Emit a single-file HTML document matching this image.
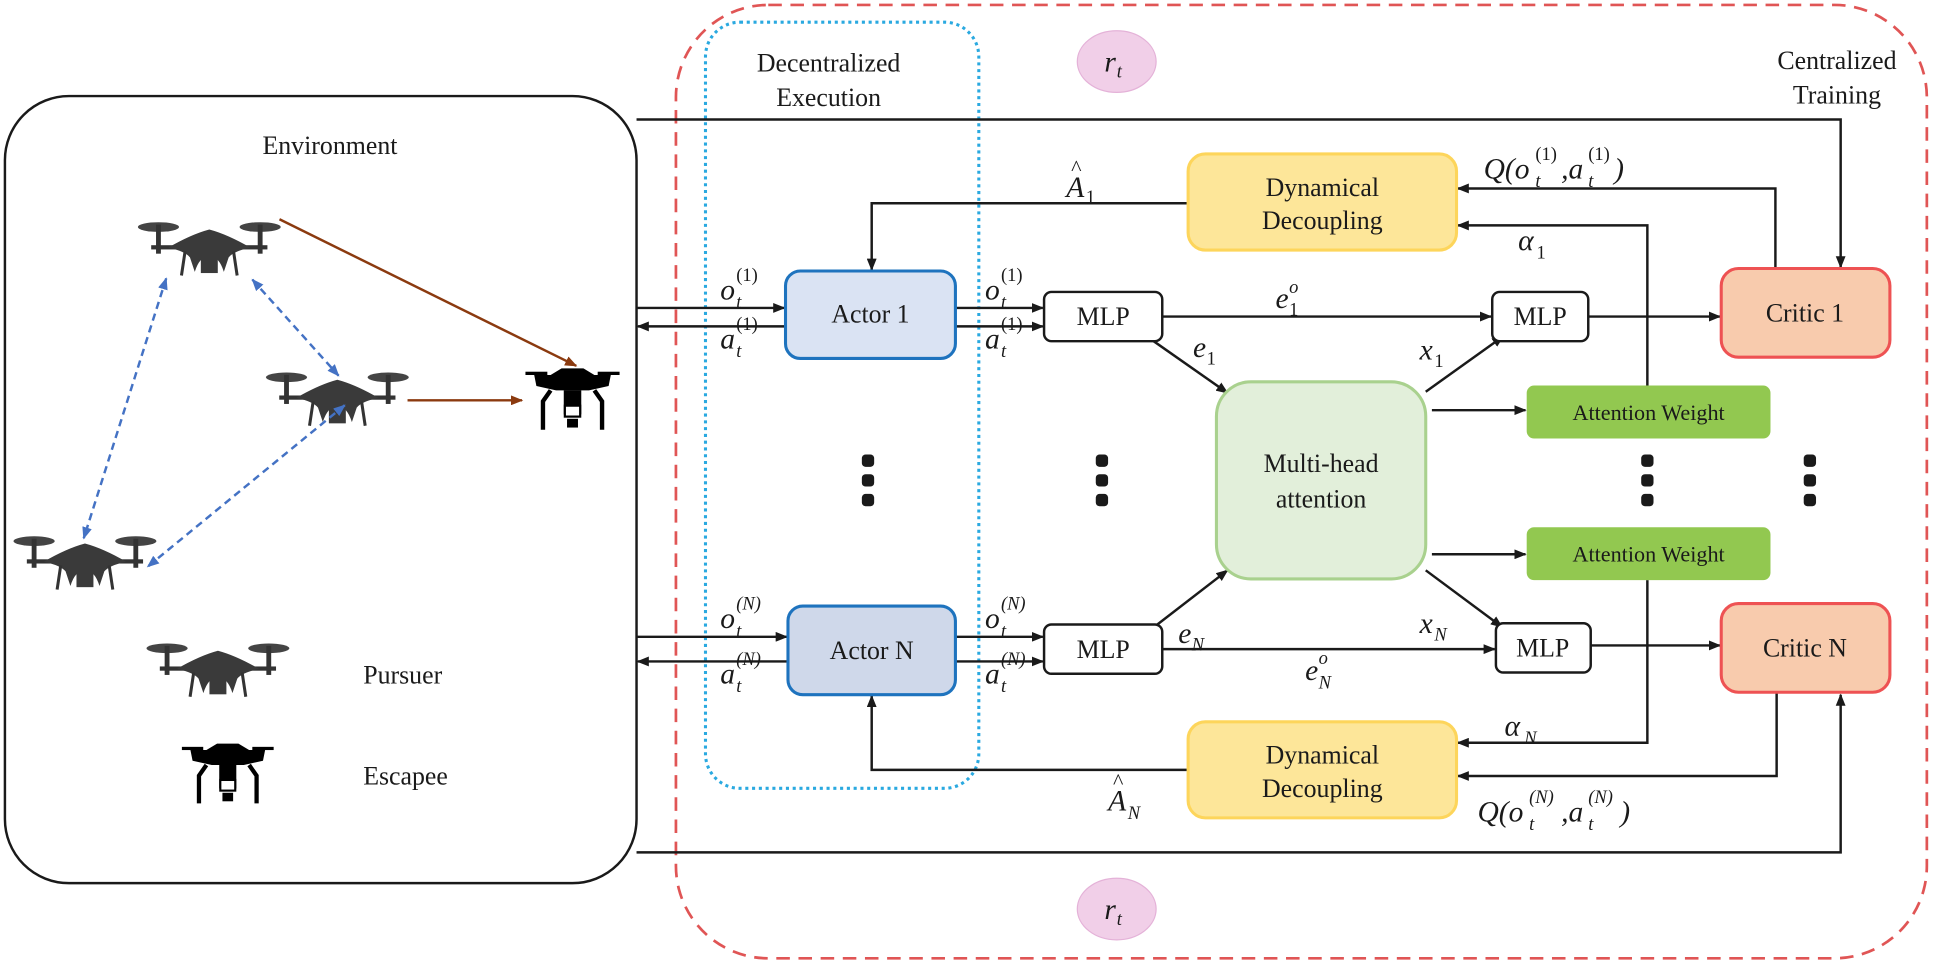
<!DOCTYPE html>
<html><head><meta charset="utf-8"><style>
html,body{margin:0;padding:0;background:#fff}
svg{display:block}
text{font-family:"Liberation Serif",serif;fill:#1a1a1a}
.m{font-style:italic;font-size:24px}
.s{font-style:italic;font-size:15px}
.n{font-style:normal;font-size:15px}
.b{font-size:21px}
</style></head><body>
<svg width="1933" height="962" viewBox="0 0 1570 781" preserveAspectRatio="none" xmlns="http://www.w3.org/2000/svg">
<defs>
<marker id="ar" markerWidth="10" markerHeight="8" refX="9" refY="4" orient="auto" markerUnits="userSpaceOnUse"><path d="M0,0 L10,4 L0,8 Z" fill="#1a1a1a"/></marker>
<marker id="br" markerWidth="10" markerHeight="8" refX="9" refY="4" orient="auto" markerUnits="userSpaceOnUse"><path d="M0,0 L10,4 L0,8 Z" fill="#8b3a0f"/></marker>
<marker id="bl" markerWidth="10" markerHeight="8" refX="9" refY="4" orient="auto-start-reverse" markerUnits="userSpaceOnUse"><path d="M0,0 L10,4 L0,8 Z" fill="#4472c4"/></marker>
<symbol id="pd" viewBox="0 0 120 50">
<ellipse cx="18" cy="6" rx="17" ry="4" fill="#444"/><ellipse cx="102" cy="6" rx="17" ry="4" fill="#444"/>
<rect x="16" y="4" width="4" height="24" fill="#333"/><rect x="100" y="4" width="4" height="24" fill="#333"/>
<rect x="12" y="21" width="96" height="3.5" fill="#333"/>
<path d="M26 23 Q45 12 60 8 Q75 12 94 23 Q80 26 76 31 L72 43 Q68 30 60 30 Q52 30 48 43 L44 31 Q40 26 26 23Z" fill="#3a3a3a"/>
<rect x="53" y="29" width="14" height="15" fill="#3a3a3a"/>
<line x1="40" y1="26" x2="37" y2="46" stroke="#333" stroke-width="2.5"/><line x1="80" y1="26" x2="83" y2="46" stroke="#333" stroke-width="2.5"/>
</symbol>
<symbol id="ed" viewBox="0 0 90 60">
<rect x="2" y="5" width="20" height="3" fill="#000"/><rect x="68" y="5" width="20" height="3" fill="#000"/>
<path d="M10 8 L25 8 L35 2 L55 2 L65 8 L80 8 L78 18 L60 22 L30 22 L12 18Z" fill="#000"/>
<path d="M25 22 L18 32 L18 58 M65 22 L72 32 L72 58" stroke="#000" stroke-width="4" fill="none"/>
<rect x="37" y="22" width="16" height="22" fill="#000"/><rect x="38" y="36" width="14" height="10" fill="#fff" stroke="#000" stroke-width="2"/>
<rect x="40" y="48" width="10" height="8" fill="#000"/>
</symbol>
</defs>

<rect x="549" y="4" width="1016" height="774" rx="75" fill="none" stroke="#e05555" stroke-width="2.2" stroke-dasharray="11,7"/>
<rect x="573" y="18" width="222" height="622" rx="28" fill="none" stroke="#2aa9e0" stroke-width="2.5" stroke-dasharray="2.5,3"/>
<rect x="4" y="78" width="513" height="639" rx="52" fill="none" stroke="#1a1a1a" stroke-width="2"/>

<text class="b" x="268" y="125" text-anchor="middle">Environment</text>
<text class="b" x="673" y="58" text-anchor="middle">Decentralized</text>
<text class="b" x="673" y="86" text-anchor="middle">Execution</text>
<text class="b" x="1492" y="56" text-anchor="middle">Centralized</text>
<text class="b" x="1492" y="84" text-anchor="middle">Training</text>

<ellipse cx="907" cy="50" rx="32" ry="25" fill="#f1cfe8" stroke="#e4b2d8"/>
<text class="m" x="897" y="58">r</text><text class="s" x="907" y="63">t</text>
<ellipse cx="907" cy="738" rx="32" ry="25" fill="#f1cfe8" stroke="#e4b2d8"/>
<text class="m" x="897" y="746">r</text><text class="s" x="907" y="751">t</text>

<use href="#pd" x="111" y="178" width="118" height="50"/>
<use href="#pd" x="215" y="300" width="118" height="50"/>
<use href="#pd" x="10" y="433" width="118" height="50"/>
<use href="#pd" x="118" y="520" width="118" height="50"/>
<use href="#ed" x="425" y="297" width="80" height="54"/>
<use href="#ed" x="140" y="602" width="90" height="52"/>
<text class="b" x="295" y="555">Pursuer</text>
<text class="b" x="295" y="637">Escapee</text>

<line x1="227" y1="178" x2="468" y2="297" stroke="#8b3a0f" stroke-width="2" marker-end="url(#br)"/>
<line x1="331" y1="325" x2="424" y2="325" stroke="#8b3a0f" stroke-width="2" marker-end="url(#br)"/>
<g stroke="#4472c4" stroke-width="2" stroke-dasharray="6,4" fill="none">
<line x1="205" y1="227" x2="275" y2="305" marker-start="url(#bl)" marker-end="url(#bl)"/>
<line x1="135" y1="226" x2="68" y2="437" marker-start="url(#bl)" marker-end="url(#bl)"/>
<line x1="280" y1="329" x2="120" y2="460" marker-start="url(#bl)" marker-end="url(#bl)"/>
</g>

<g stroke="#1a1a1a" stroke-width="2" fill="none">
<polyline points="517,97 1495,97 1495,217" marker-end="url(#ar)"/>
<polyline points="517,692 1495,692 1495,564" marker-end="url(#ar)"/>
<line x1="517" y1="250" x2="637" y2="250" marker-end="url(#ar)"/>
<line x1="638" y1="265" x2="518" y2="265" marker-end="url(#ar)"/>
<line x1="517" y1="517" x2="639" y2="517" marker-end="url(#ar)"/>
<line x1="640" y1="537" x2="518" y2="537" marker-end="url(#ar)"/>
<line x1="776" y1="250" x2="847" y2="250" marker-end="url(#ar)"/>
<line x1="776" y1="265" x2="847" y2="265" marker-end="url(#ar)"/>
<line x1="776" y1="517" x2="847" y2="517" marker-end="url(#ar)"/>
<line x1="776" y1="537" x2="847" y2="537" marker-end="url(#ar)"/>
<polyline points="965,165 708,165 708,219" marker-end="url(#ar)"/>
<polyline points="965,625 708,625 708,565" marker-end="url(#ar)"/>
<polyline points="1442,218 1442,153 1184,153" marker-end="url(#ar)"/>
<polyline points="1338,313 1338,183 1184,183" marker-end="url(#ar)"/>
<polyline points="1338,471 1338,603 1184,603" marker-end="url(#ar)"/>
<polyline points="1443,562 1443,630 1184,630" marker-end="url(#ar)"/>
<line x1="944" y1="257" x2="1211" y2="257" marker-end="url(#ar)"/>
<line x1="944" y1="527" x2="1214" y2="527" marker-end="url(#ar)"/>
<line x1="1290" y1="257" x2="1397" y2="257" marker-end="url(#ar)"/>
<line x1="1292" y1="524" x2="1397" y2="524" marker-end="url(#ar)"/>
<line x1="937" y1="277" x2="997" y2="319" marker-end="url(#ar)"/>
<line x1="940" y1="507" x2="997" y2="463" marker-end="url(#ar)"/>
<line x1="1158" y1="318" x2="1221" y2="273" marker-end="url(#ar)"/>
<line x1="1158" y1="463" x2="1220" y2="509" marker-end="url(#ar)"/>
<line x1="1163" y1="333" x2="1239" y2="333" marker-end="url(#ar)"/>
<line x1="1163" y1="450" x2="1239" y2="450" marker-end="url(#ar)"/>
</g>

<rect x="638" y="220" width="138" height="71" rx="12" fill="#dae3f3" stroke="#1e73be" stroke-width="2.5"/>
<text class="b" x="707" y="262" text-anchor="middle">Actor 1</text>
<rect x="640" y="492" width="136" height="72" rx="12" fill="#cfd8ea" stroke="#1e73be" stroke-width="2.5"/>
<text class="b" x="708" y="535" text-anchor="middle">Actor N</text>
<rect x="848" y="237" width="96" height="40" rx="6" fill="#fff" stroke="#1a1a1a" stroke-width="2"/>
<text class="b" x="896" y="264" text-anchor="middle">MLP</text>
<rect x="848" y="507" width="96" height="40" rx="6" fill="#fff" stroke="#1a1a1a" stroke-width="2"/>
<text class="b" x="896" y="534" text-anchor="middle">MLP</text>
<rect x="1212" y="237" width="78" height="40" rx="6" fill="#fff" stroke="#1a1a1a" stroke-width="2"/>
<text class="b" x="1251" y="264" text-anchor="middle">MLP</text>
<rect x="1215" y="506" width="77" height="40" rx="6" fill="#fff" stroke="#1a1a1a" stroke-width="2"/>
<text class="b" x="1253" y="533" text-anchor="middle">MLP</text>
<rect x="965" y="125" width="218" height="78" rx="14" fill="#fde699" stroke="#fdd55b" stroke-width="2.5"/>
<text class="b" x="1074" y="159" text-anchor="middle">Dynamical</text>
<text class="b" x="1074" y="186" text-anchor="middle">Decoupling</text>
<rect x="965" y="586" width="218" height="78" rx="14" fill="#fde699" stroke="#fdd55b" stroke-width="2.5"/>
<text class="b" x="1074" y="620" text-anchor="middle">Dynamical</text>
<text class="b" x="1074" y="647" text-anchor="middle">Decoupling</text>
<rect x="988" y="310" width="170" height="160" rx="28" fill="#e2efda" stroke="#a9d18e" stroke-width="2.5"/>
<text class="b" x="1073" y="383" text-anchor="middle">Multi-head</text>
<text class="b" x="1073" y="412" text-anchor="middle">attention</text>
<rect x="1240" y="313" width="198" height="43" rx="6" fill="#92c850"/>
<text font-size="18" x="1339" y="341" text-anchor="middle">Attention Weight</text>
<rect x="1240" y="428" width="198" height="43" rx="6" fill="#92c850"/>
<text font-size="18" x="1339" y="456" text-anchor="middle">Attention Weight</text>
<rect x="1398" y="218" width="137" height="72" rx="14" fill="#f8cbad" stroke="#ee5253" stroke-width="2.5"/>
<text class="b" x="1466" y="261" text-anchor="middle">Critic 1</text>
<rect x="1398" y="490" width="137" height="72" rx="14" fill="#f8cbad" stroke="#ee5253" stroke-width="2.5"/>
<text class="b" x="1466" y="533" text-anchor="middle">Critic N</text>

<g fill="#1a1a1a">
<rect x="700" y="369" width="10" height="10" rx="3"/><rect x="700" y="385" width="10" height="10" rx="3"/><rect x="700" y="401" width="10" height="10" rx="3"/>
<rect x="890" y="369" width="10" height="10" rx="3"/><rect x="890" y="385" width="10" height="10" rx="3"/><rect x="890" y="401" width="10" height="10" rx="3"/>
<rect x="1333" y="369" width="10" height="10" rx="3"/><rect x="1333" y="385" width="10" height="10" rx="3"/><rect x="1333" y="401" width="10" height="10" rx="3"/>
<rect x="1465" y="369" width="10" height="10" rx="3"/><rect x="1465" y="385" width="10" height="10" rx="3"/><rect x="1465" y="401" width="10" height="10" rx="3"/>
</g>

<text class="m" x="585" y="243">o</text><text class="s" x="598" y="250">t</text><text class="n" x="598" y="228">(1)</text>
<text class="m" x="585" y="283">a</text><text class="s" x="598" y="290">t</text><text class="n" x="598" y="268">(1)</text>
<text class="m" x="800" y="243">o</text><text class="s" x="813" y="250">t</text><text class="n" x="813" y="228">(1)</text>
<text class="m" x="800" y="283">a</text><text class="s" x="813" y="290">t</text><text class="n" x="813" y="268">(1)</text>
<text class="m" x="585" y="510">o</text><text class="s" x="598" y="517">t</text><text class="s" x="598" y="495">(N)</text>
<text class="m" x="585" y="555">a</text><text class="s" x="598" y="562">t</text><text class="s" x="598" y="540">(N)</text>
<text class="m" x="800" y="510">o</text><text class="s" x="813" y="517">t</text><text class="s" x="813" y="495">(N)</text>
<text class="m" x="800" y="555">a</text><text class="s" x="813" y="562">t</text><text class="s" x="813" y="540">(N)</text>
<text class="m" x="866" y="160">A</text><text x="870" y="142" font-size="18">^</text><text class="n" x="882" y="165">1</text>
<text class="m" x="900" y="658">A</text><text x="904" y="640" font-size="18">^</text><text class="s" x="916" y="665">N</text>
<text class="m" x="1036" y="250">e</text><text class="n" x="1047" y="256">1</text><text class="s" x="1047" y="238">o</text>
<text class="m" x="1060" y="552">e</text><text class="s" x="1071" y="559">N</text><text class="s" x="1071" y="539">o</text>
<text class="m" x="969" y="290">e</text><text class="n" x="980" y="296">1</text>
<text class="m" x="957" y="522">e</text><text class="s" x="968" y="528">N</text>
<text class="m" x="1153" y="292">x</text><text class="n" x="1165" y="298">1</text>
<text class="m" x="1153" y="514">x</text><text class="s" x="1165" y="520">N</text>
<text class="m" x="1233" y="203">α</text><text class="n" x="1248" y="210">1</text>
<text class="m" x="1222" y="597">α</text><text class="s" x="1238" y="604">N</text>
<text class="m" x="1205" y="145" font-size="26">Q(o</text><text class="s" x="1247" y="152">t</text><text class="n" x="1247" y="130">(1)</text><text class="m" x="1268" y="145" font-size="26">,a</text><text class="s" x="1290" y="152">t</text><text class="n" x="1290" y="130">(1)</text><text class="m" x="1311" y="145" font-size="26">)</text>
<text class="m" x="1200" y="667" font-size="26">Q(o</text><text class="s" x="1242" y="674">t</text><text class="s" x="1242" y="652">(N)</text><text class="m" x="1268" y="667" font-size="26">,a</text><text class="s" x="1290" y="674">t</text><text class="s" x="1290" y="652">(N)</text><text class="m" x="1316" y="667" font-size="26">)</text>
</svg>
</body></html>
